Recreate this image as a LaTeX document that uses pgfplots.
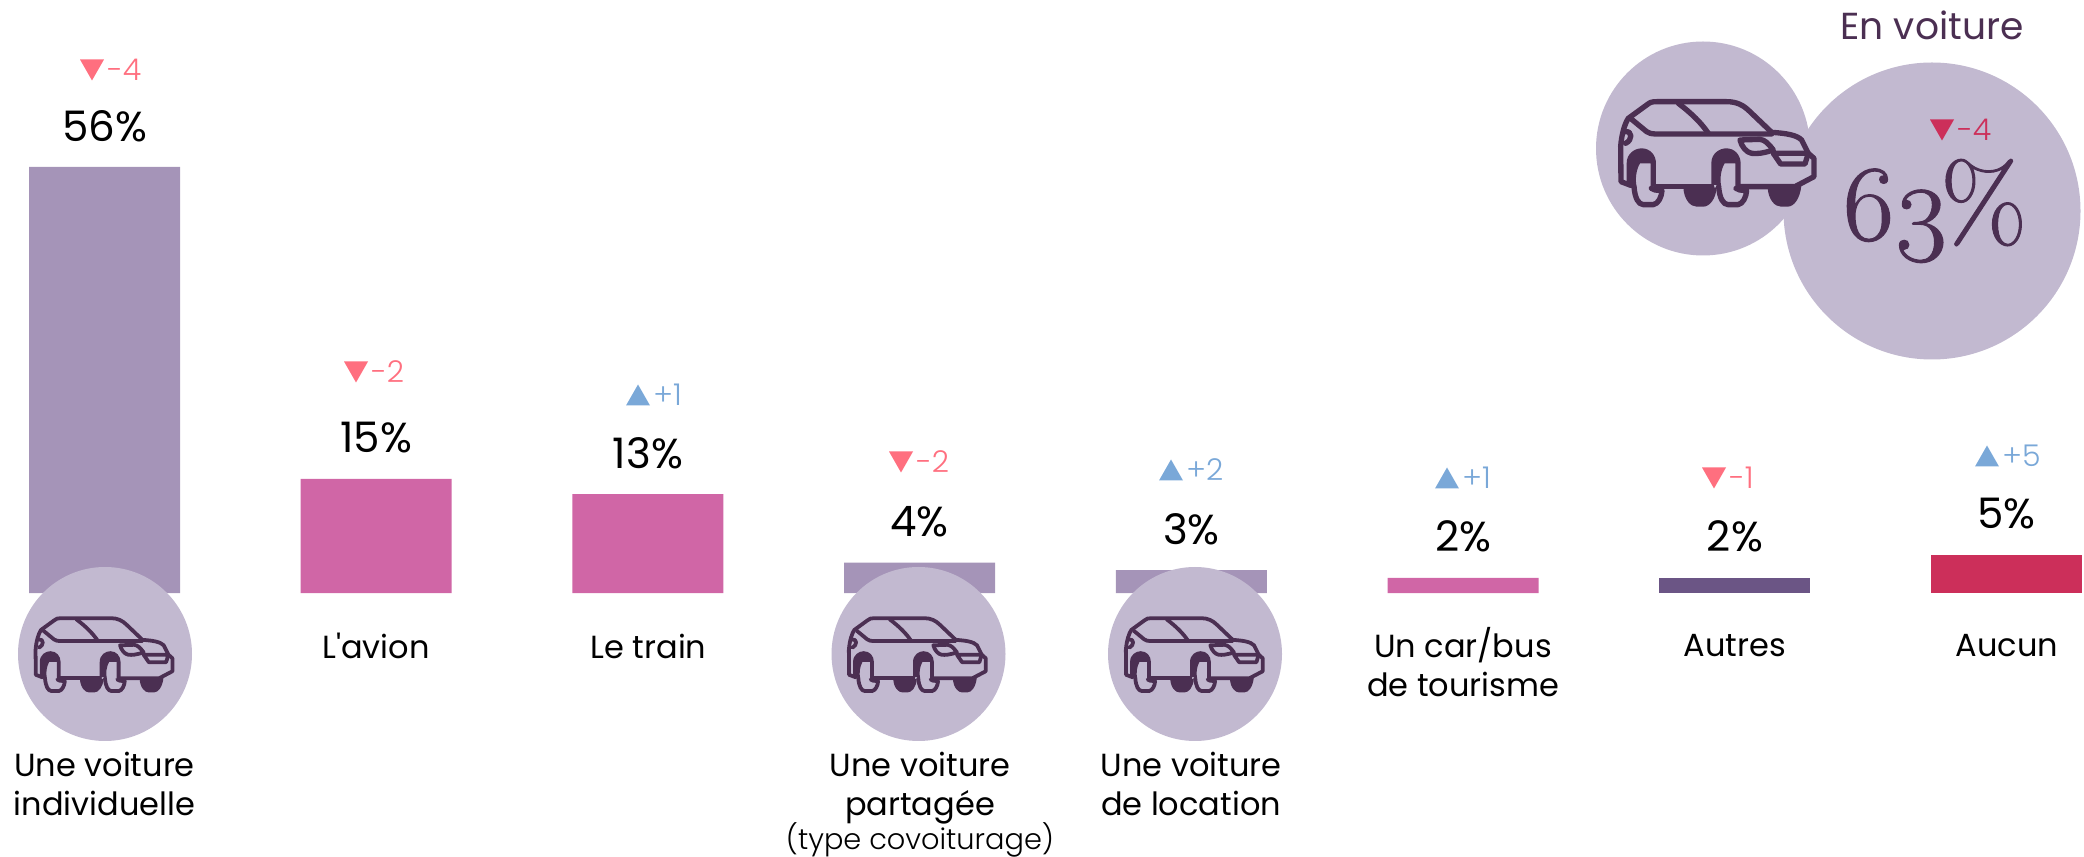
\documentclass[border=0pt]{standalone}
\usepackage{pgfplots}
\usepackage{fontspec}
\pgfplotsset{compat=1.18}
\setmainfont{Poppins}
\newfontfamily\plainf{Poppins}
\newfontfamily\lightf{Poppins Light}
\newfontfamily\bigf[Numbers=OldStyle,FakeBold=1.0,FakeStretch=1.03]{Latin Modern Roman}
\definecolor{circ}{HTML}{C2B9D0}
\definecolor{barP}{HTML}{A594B8}
\definecolor{barK}{HTML}{D066A6}
\definecolor{barD}{HTML}{6B5585}
\definecolor{barR}{HTML}{CC2F5A}
\definecolor{dark}{HTML}{4B2F52}
\definecolor{dn}{HTML}{FF6F7F}
\definecolor{up}{HTML}{7AA8D8}
\newcommand\car[3]{%
\begin{scope}[shift={(#1,#2)},x=#3*0.5pt,y=-#3*0.5pt,shift={(-475,-459)},line width=#3*8pt,draw=dark,fill=dark,line join=round,line cap=round]
\draw (212,556) -- (183,545) -- (182,440) .. controls (185,400) and (195,370) .. (205,355) -- (260,315) .. controls (270,307) and (275,305) .. (290,305) -- (500,305) .. controls (530,305) and (550,315) .. (570,335) -- (635,397) .. controls (680,400) and (710,405) .. (725,420) -- (745,460) -- (762,475) -- (762,530) -- (705,560) -- (540,560);
\draw (288,560) -- (455,560);
\draw (215,358) -- (260,395) .. controls (268,400) and (275,402) .. (285,402) -- (635,402);
\draw (355,310) .. controls (395,340) and (425,370) .. (445,400);
\draw (195,395) .. controls (218,392) and (218,420) .. (197,430);
\draw (540,420) -- (600,418) .. controls (615,420) and (625,430) .. (640,450) .. controls (610,460) and (590,462) .. (575,460) .. controls (560,458) and (545,440) .. (540,420) -- cycle;
\draw (640,460) -- (745,460) -- (735,492) -- (662,492) -- cycle;
\fill (370,562) .. controls (372,600) and (392,620) .. (410,620) -- (430,620) .. controls (450,620) and (468,595) .. (470,562) -- cycle;
\fill (623,562) .. controls (625,600) and (645,620) .. (663,620) -- (683,620) .. controls (703,620) and (720,595) .. (724,558) -- cycle;
\foreach \s in {0,254}{
\begin{scope}[shift={(\s,0)}]
\fill (200,555) -- (200,490) .. controls (200,460) and (225,445) .. (245,445) .. controls (270,445) and (288,465) .. (288,490) -- (288,560) -- (272,560) -- (272,490) -- (240,490) .. controls (228,510) and (225,540) .. (230,560) -- (215,555) -- cycle;
\draw (222,560) .. controls (225,595) and (235,613) .. (250,614) -- (280,614) .. controls (295,612) and (305,590) .. (306,572) -- (285,570) -- (274,565);
\end{scope}}
\end{scope}}
\newcommand\delt[5]{% x of triangle centre, y centre, up/down, text, colour
\begin{scope}[shift={(#1,#2)}]
\ifnum#3=0 \fill[#5] (-12,-10.5) -- (12,-10.5) -- (0,10.5) -- cycle;
\else \fill[#5] (-12,10.5) -- (12,10.5) -- (0,-10.5) -- cycle; \fi
\node[anchor=west,inner sep=0pt,text=#5,font=\lightf\fontsize{15}{16}\selectfont] at (15,0) {#4};
\end{scope}}
\begin{document}
\begin{tikzpicture}
\path[use as bounding box] (0,0) rectangle (1042pt,428.5pt);
\begin{axis}[
  at={(0,0)},anchor=south west,
  width=1042pt,height=428.5pt,scale only axis,
  hide axis,clip=false,
  xmin=-0.38461,xmax=7.28487,
  ymin=-34.70,ymax=77.95,
  ybar,bar width=75.5pt,bar shift=0pt,
  /pgf/number format/assume math mode=true,
  nodes near coords={\pgfmathprintnumber{\pgfplotspointmeta}\%},
  every node near coord/.append style={anchor=center,yshift=20.5pt,font=\fontsize{21}{23}\selectfont,text=black,inner sep=0pt},
]
\addplot[fill=barP,draw=none] coordinates {(0,56) (3,4) (4,3)};
\addplot[fill=barK,draw=none] coordinates {(1,15) (2,13) (5,2)};
\addplot[fill=barD,draw=none] coordinates {(6,2)};
\addplot[fill=barR,draw=none] coordinates {(7,5)};
\end{axis}
\begin{scope}[x=0.5pt,y=-0.5pt,shift={(0,-857)}]
\fill[circ] (105,654) circle (87);
\fill[circ] (918.5,654) circle (87);
\fill[circ] (1195,654) circle (87);
\fill[circ] (1703,148.5) circle (107);
\fill[circ] (1932,211) circle (148.5);
\car{104.7}{654.5}{0.236}
\car{918}{654.5}{0.236}
\car{1195}{654.5}{0.236}
\car{1718.3}{153}{0.3333}
\tikzset{lab/.style={align=center,font=\fontsize{16}{19.5}\selectfont,text=black,inner sep=0pt,anchor=center}}
\node[lab] at (104.5,784) {Une voiture\\individuelle};
\node[lab] at (376,646) {{\plainf L'avion}};
\node[lab] at (648.5,646) {Le train};
\node[lab] at (920,788) {Une voiture\\partagée};
\node[lab,font=\lightf\fontsize{14.4}{15}\selectfont] at (920,840) {(type covoiturage)};
\node[lab] at (1191,784) {Une voiture\\de location};
\node[lab] at (1463,662) {Un car/bus\\de tourisme};
\node[lab] at (1735,646) {Autres};
\node[lab] at (2007,646) {Aucun};
\delt{92}{70}{0}{-4}{dn}
\delt{356}{372}{0}{-2}{dn}
\delt{638}{395}{1}{+1}{up}
\delt{901}{462}{0}{-2}{dn}
\delt{1171}{470}{1}{+2}{up}
\delt{1447}{478}{1}{+1}{up}
\delt{1714}{478}{0}{-1}{dn}
\delt{1987}{456}{1}{+5}{up}
\delt{1942}{130}{0}{-4}{barR}
\node[inner sep=0pt,text=dark,font=\fontsize{18.8}{20}\selectfont] at (1932,25) {En voiture};
\node[inner sep=0pt,text=dark,font=\bigf\fontsize{54}{56}\selectfont] at (1933,211) {6\kern-3pt 3\kern-5pt\%};
\end{scope}
\end{tikzpicture}
\end{document}
